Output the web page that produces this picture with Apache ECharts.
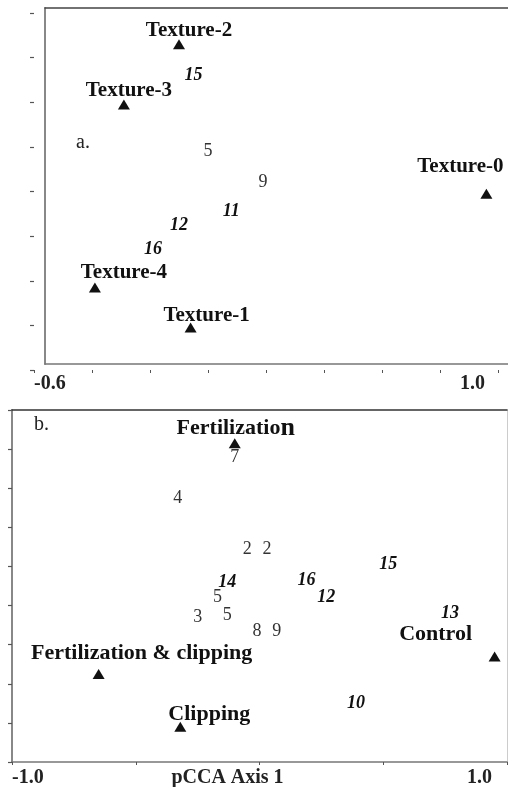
<!DOCTYPE html>
<html>
<head>
<meta charset="utf-8">
<script src="https://cdn.jsdelivr.net/npm/echarts@6/dist/echarts.min.js"></script>
<style>html,body{margin:0;padding:0;background:#fff}#c{width:508px;height:787px}</style>
</head>
<body>
<div id="c"></div>
<script>
// ---------- Panel a: soil texture classes (triangles) ----------
const aTriNames = ['Texture-2', 'Texture-3', 'Texture-0', 'Texture-4', 'Texture-1'];
const aTriX = [-0.10, -0.29, 0.96, -0.39, -0.06];
const aTriY = [0.66, 0.39, -0.01, -0.43, -0.61];
// ---------- Panel a: site scores ----------
const aSiteNames = ['15', '5', '9', '11', '12', '16'];
const aSiteX = [-0.05, 0.00, 0.19, 0.08, -0.10, -0.19];
const aSiteY = [0.52, 0.18, 0.04, -0.09, -0.15, -0.26];
const aSiteItalic = [true, false, false, true, true, true];
// ---------- Panel b: treatments (triangles) ----------
const bTriNames = ['Fertilization', 'Control', 'Fertilization & clipping', 'Clipping'];
const bTriX = [-0.10, 0.95, -0.65, -0.32];
const bTriY = [0.63, -0.46, -0.55, -0.82];
// ---------- Panel b: site scores ----------
const bSiteNames = ['7', '4', '2', '2', '15', '16', '14', '5', '12', '3', '5', '8', '9', '13', '10'];
const bSiteX = [-0.10, -0.33, -0.05, 0.03, 0.52, 0.19, -0.13, -0.17, 0.27, -0.25, -0.13, -0.01, 0.07, 0.77, 0.39];
const bSiteY = [0.56, 0.35, 0.09, 0.09, 0.01, -0.07, -0.08, -0.16, -0.16, -0.26, -0.25, -0.33, -0.33, -0.24, -0.70];
const bSiteItalic = [false, false, false, false, true, true, true, false, true, false, false, false, false, true, true];
// ---------- Tick labels ----------
const aXTickLabels = { '-0.6': '-0.6', '1': '1.0' };
const bXTickLabels = { '-1': '-1.0', '1': '1.0' };
const bXAxisName = 'pCCA Axis 1';
const panelLetters = ['a.', 'b.'];

// label offsets (style only)
const aTriLabelOffset = [[10, -14], [5, -14], [-26, -27], [29, -15], [16, -12]];
const bTriLabelOffset = [[1, -15], [-59, -22], [43, -21], [29, -12]];

const SERIF = '"Liberation Serif", "Times New Roman", serif';

function tickFmt(map) {
  return function (v) {
    for (const k in map) {
      if (Math.abs(v - parseFloat(k)) < 1e-6) {
        return parseFloat(k) > 0 ? '{r|' + map[k] + '}' : map[k];
      }
    }
    return '';
  };
}

function triData(names, xs, ys, offs) {
  return names.map((n, i) => ({
    name: n, value: [xs[i], ys[i]],
    label: { offset: offs[i] }
  }));
}
function siteData(names, xs, ys, ital) {
  return names.map((n, i) => ({
    name: n, value: [xs[i], ys[i]],
    label: ital[i] ? { fontStyle: 'italic', fontWeight: 'bold', color: '#111' } : { fontStyle: 'normal', fontWeight: 'normal', color: '#333' }
  }));
}

function triLabel(size) {
  return {
    show: true, position: 'inside', formatter: function (p) {
      return p.name === 'Fertilization' ? 'Fertilizatio{n|n}' : p.name;
    },
    fontFamily: SERIF, fontWeight: 'bold', fontSize: size, color: '#111',
    textBorderWidth: 0, opacity: 1,
    rich: { n: { fontFamily: SERIF, fontWeight: 'bold', fontSize: size + 4, color: '#111' } }
  };
}
const siteLabel = {
  show: true, position: 'inside', formatter: '{b}',
  fontFamily: SERIF, fontSize: 18, color: '#111', textBorderWidth: 0, opacity: 1
};

const noAxis = { show: true, axisTick: { show: false }, axisLabel: { show: false }, splitLine: { show: false } };
const axLabelFont = { fontFamily: SERIF, fontWeight: 'bold', fontSize: 20, color: '#222' };
function richRight(pad) {
  return { r: Object.assign({ padding: [0, pad, 0, 0] }, axLabelFont) };
}

const option = {
  animation: false,
  backgroundColor: '#fff',
  title: [
    { text: panelLetters[0], left: 71, top: 128, textStyle: { fontFamily: SERIF, fontWeight: 'normal', fontSize: 20, color: '#222' } },
    { text: panelLetters[1], left: 29, top: 410, textStyle: { fontFamily: SERIF, fontWeight: 'normal', fontSize: 20, color: '#222' } }
  ],
  grid: [
    { left: 45, top: 8, right: 0, height: 356, outerBoundsMode: 'none', containLabel: false },
    { left: 34, top: 13, width: 464, height: 357, outerBoundsMode: 'none', containLabel: false },
    { left: 12, top: 410, right: 1, height: 352, outerBoundsMode: 'none', containLabel: false }
  ],
  xAxis: [
    Object.assign({ gridIndex: 0, type: 'value', min: 0, max: 1, position: 'bottom', axisLine: { onZero: false, lineStyle: { color: '#777', width: 1.5 } } }, noAxis),
    Object.assign({ gridIndex: 0, type: 'value', min: 0, max: 1, position: 'top', axisLine: { onZero: false, lineStyle: { color: '#444', width: 1.5 } } }, noAxis),
    {
      gridIndex: 1, type: 'value', min: -0.6, max: 1.0, interval: 0.2, position: 'bottom',
      axisLine: { show: false, onZero: false }, splitLine: { show: false },
      axisTick: { show: true, length: 3, lineStyle: { color: '#555' } },
      axisLabel: Object.assign({
        show: true, formatter: tickFmt(aXTickLabels), showMinLabel: true, showMaxLabel: true,
        alignMinLabel: 'left', alignMaxLabel: 'right', margin: 4, rich: richRight(13)
      }, axLabelFont)
    },
    {
      gridIndex: 2, type: 'value', min: -1.0, max: 1.0, interval: 0.5, position: 'bottom',
      axisLine: { show: true, onZero: false, lineStyle: { color: '#777', width: 1.5 } }, splitLine: { show: false },
      axisTick: { show: true, length: 3, inside: false, lineStyle: { color: '#555' } },
      axisLabel: Object.assign({
        show: true, formatter: tickFmt(bXTickLabels), showMinLabel: true, showMaxLabel: true,
        alignMinLabel: 'left', alignMaxLabel: 'right', margin: 6, rich: richRight(15)
      }, axLabelFont),
      name: bXAxisName, nameLocation: 'middle', nameGap: 6, nameMoveOverlap: false,
      nameTextStyle: Object.assign({ padding: [0, 64, 0, 0], verticalAlign: 'top' }, axLabelFont)
    },
    Object.assign({ gridIndex: 2, type: 'value', min: 0, max: 1, position: 'top', axisLine: { onZero: false, lineStyle: { color: '#333', width: 1.5 } } }, noAxis)
  ],
  yAxis: [
    Object.assign({ gridIndex: 0, type: 'value', min: 0, max: 1, position: 'left', axisLine: { onZero: false, lineStyle: { color: '#888', width: 2 } } }, noAxis),
    {
      gridIndex: 1, type: 'value', min: -0.8, max: 0.8, interval: 0.2, position: 'left',
      axisLine: { show: false, onZero: false }, splitLine: { show: false }, axisLabel: { show: false },
      axisTick: { show: true, length: 4, lineStyle: { color: '#555', width: 1.2 } }
    },
    {
      gridIndex: 2, type: 'value', min: -1.0, max: 0.8, interval: 0.2, position: 'left',
      axisLine: { show: true, onZero: false, lineStyle: { color: '#888', width: 2 } }, splitLine: { show: false }, axisLabel: { show: false },
      axisTick: { show: true, length: 4, lineStyle: { color: '#555', width: 1.2 } }
    },
    Object.assign({ gridIndex: 2, type: 'value', min: 0, max: 1, position: 'right', axisLine: { onZero: false, lineStyle: { color: '#ccc', width: 1 } } }, noAxis)
  ],
  series: [
    {
      type: 'scatter', xAxisIndex: 2, yAxisIndex: 1, symbol: 'triangle', symbolSize: [12, 10],
      itemStyle: { color: '#111', opacity: 1 }, label: triLabel(21),
      data: triData(aTriNames, aTriX, aTriY, aTriLabelOffset)
    },
    {
      type: 'scatter', xAxisIndex: 2, yAxisIndex: 1, symbolSize: 1, itemStyle: { color: 'rgba(0,0,0,0)' },
      label: siteLabel, data: siteData(aSiteNames, aSiteX, aSiteY, aSiteItalic)
    },
    {
      type: 'scatter', xAxisIndex: 3, yAxisIndex: 2, symbol: 'triangle', symbolSize: [12, 10],
      itemStyle: { color: '#111', opacity: 1 }, label: triLabel(22),
      data: triData(bTriNames, bTriX, bTriY, bTriLabelOffset)
    },
    {
      type: 'scatter', xAxisIndex: 3, yAxisIndex: 2, symbolSize: 1, itemStyle: { color: 'rgba(0,0,0,0)' },
      label: siteLabel, data: siteData(bSiteNames, bSiteX, bSiteY, bSiteItalic)
    }
  ]
};

const chart = echarts.init(document.getElementById('c'), null, { renderer: 'canvas' });
chart.setOption(option);
</script>
</body>
</html>
